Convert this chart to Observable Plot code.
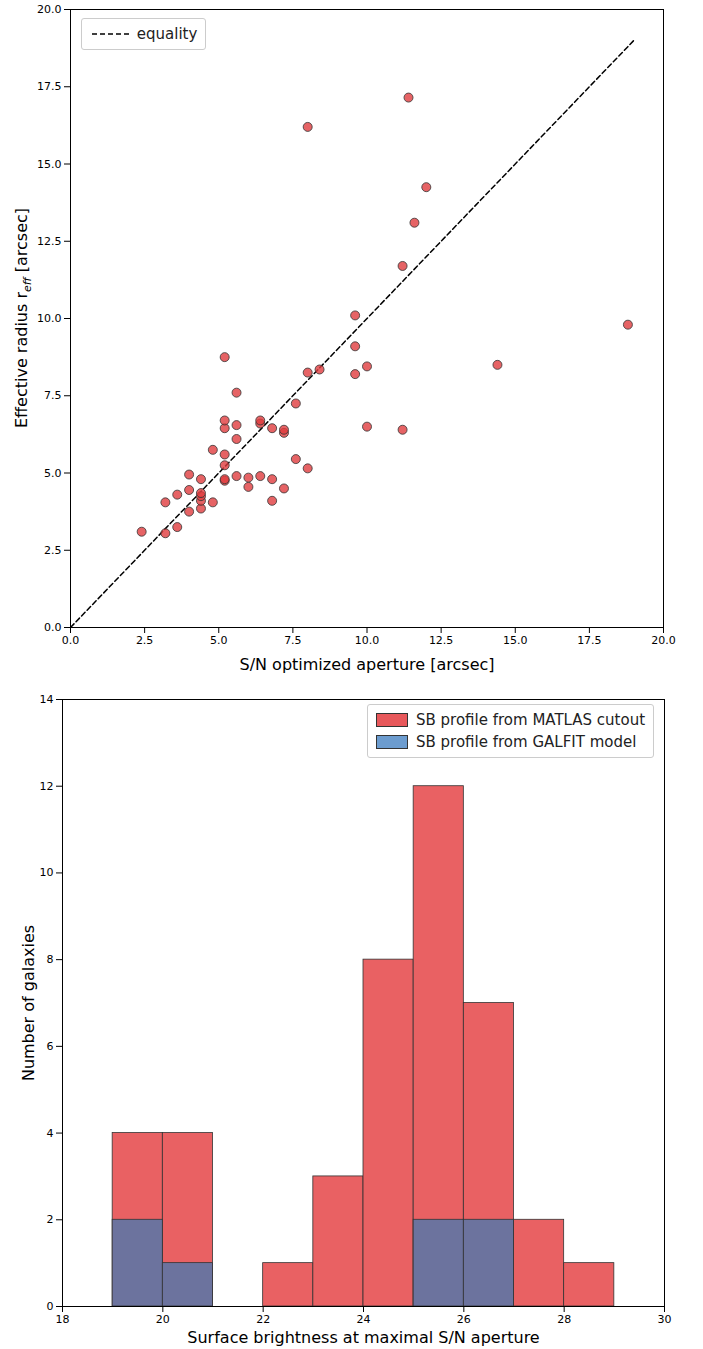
<!DOCTYPE html>
<html><head><meta charset="utf-8">
<script src="https://cdn.jsdelivr.net/npm/d3@7"></script>
<script src="https://cdn.jsdelivr.net/npm/@observablehq/plot@0.6"></script>
<style>
body{margin:0;background:#fff;font-family:"DejaVu Sans",sans-serif}
#wrap{position:relative;width:703px}
.leg{position:absolute;background:#fff;border:1px solid #ccc;border-radius:3px;font-size:15px;color:#222;padding:4px 8px}
.leg div{display:flex;align-items:center;height:22px}
</style></head><body>
<div id="wrap"></div>
<script>
const apX = [2.4,3.2,3.2,3.6,3.6,4.0,4.0,4.0,4.4,4.4,4.4,4.4,4.4,4.8,4.8,5.2,5.2,5.2,5.2,5.2,5.2,5.2,5.6,5.6,5.6,5.6,6.0,6.0,6.4,6.4,6.4,6.8,6.8,6.8,7.2,7.2,7.2,7.6,7.6,8.0,8.0,8.0,8.4,9.6,9.6,9.6,10.0,10.0,11.2,11.2,11.4,11.6,12.0,14.4,18.8];
const reff = [3.1,3.05,4.05,3.25,4.3,3.75,4.45,4.95,3.85,4.1,4.25,4.35,4.8,4.05,5.75,4.75,4.8,5.25,5.6,6.45,6.7,8.75,4.9,6.1,6.55,7.6,4.55,4.85,4.9,6.6,6.7,4.1,4.8,6.45,4.5,6.3,6.4,5.45,7.25,5.15,8.25,16.2,8.35,8.2,9.1,10.1,6.5,8.45,6.4,11.7,17.15,13.1,14.25,8.5,9.8];
const equality = [0,19];
const binStart = [19,20,21,22,23,24,25,26,27,28];
const countMatlas = [4,4,0,1,3,8,12,7,2,1];
const countGalfit = [2,1,0,0,0,0,2,2,0,0];

const wrap = document.getElementById("wrap");
const pts = apX.map((x,i)=>({x,y:reff[i]}));
const fmt = d3.format(".1f");
const topPlot = Plot.plot({
  width:703,height:680,marginLeft:70,marginRight:40,marginTop:9,marginBottom:53,
  style:{fontSize:"11px",fontFamily:"DejaVu Sans"},
  x:{domain:[0,20],ticks:d3.range(0,20.1,2.5),tickFormat:fmt,label:"S/N optimized aperture [arcsec]",labelArrow:"none",labelAnchor:"center",labelOffset:42},
  y:{domain:[0,20],ticks:d3.range(0,20.1,2.5),tickFormat:fmt,label:null},
  marks:[
    Plot.frame({stroke:"#000"}),
    Plot.line(equality.map(v=>({x:v,y:v})),{x:"x",y:"y",stroke:"#000",strokeWidth:1.5,strokeDasharray:"5,3"}),
    Plot.dot(pts,{x:"x",y:"y",r:4.5,fill:"#e03c3e",fillOpacity:0.8,stroke:"#333",strokeWidth:0.8})
  ]
});
topPlot.querySelectorAll("g[aria-label='x-axis label'] text").forEach(t=>t.style.fontSize="16px");
const ty = d3.select(topPlot).append("text").attr("transform","translate(27,318) rotate(-90)").attr("text-anchor","middle").style("font-size","16px").attr("fill","#000");
ty.append("tspan").text("Effective radius r");
ty.append("tspan").text("eff").style("font-size","11px").style("font-style","italic").attr("dy","4");
ty.append("tspan").text(" [arcsec]").attr("dy","-4");
topPlot.style.display="block";
wrap.appendChild(topPlot);

const hist = binStart.map((b,i)=>({x1:b,x2:b+1,m:countMatlas[i],g:countGalfit[i]}));
const botPlot = Plot.plot({
  width:703,height:669,marginLeft:62,marginRight:39,marginTop:19,marginBottom:43,
  style:{fontSize:"11px",fontFamily:"DejaVu Sans"},
  x:{domain:[18,30],ticks:d3.range(18,31,2),label:"Surface brightness at maximal S/N aperture",labelArrow:"none",labelAnchor:"center",labelOffset:36},
  y:{domain:[0,14],ticks:d3.range(0,15,2),label:"Number of galaxies",labelArrow:"none",labelAnchor:"center",labelOffset:40},
  marks:[
    Plot.rectY(hist.filter(d=>d.m>0),{x1:"x1",x2:"x2",y:"m",fill:"#e8585b",fillOpacity:0.95,stroke:"#333",strokeWidth:0.8,inset:0}),
    Plot.rectY(hist.filter(d=>d.g>0),{x1:"x1",x2:"x2",y:"g",fill:"#6c739e",stroke:"#333",strokeWidth:0.8,inset:0}),
    Plot.frame({stroke:"#000"})
  ]
});
botPlot.querySelectorAll("g[aria-label='x-axis label'] text, g[aria-label='y-axis label'] text").forEach(t=>t.style.fontSize="16px");
botPlot.style.display="block";
wrap.appendChild(botPlot);

const l1=document.createElement("div");l1.className="leg";l1.style.left="81px";l1.style.top="18px";
l1.innerHTML='<div><svg width="42" height="10"><line x1="2" y1="5" x2="40" y2="5" stroke="#000" stroke-width="1.5" stroke-dasharray="5,3"/></svg>&nbsp;equality</div>';
wrap.appendChild(l1);
const l2=document.createElement("div");l2.className="leg";l2.style.left="367px";l2.style.top="704px";
l2.innerHTML='<div><span style="display:inline-block;width:30px;height:12px;background:#e8585b;border:1px solid #333;margin-right:8px"></span>SB profile from MATLAS cutout</div><div><span style="display:inline-block;width:30px;height:12px;background:#6c9ccf;border:1px solid #333;margin-right:8px"></span>SB profile from GALFIT model</div>';
wrap.appendChild(l2);
</script></body></html>
